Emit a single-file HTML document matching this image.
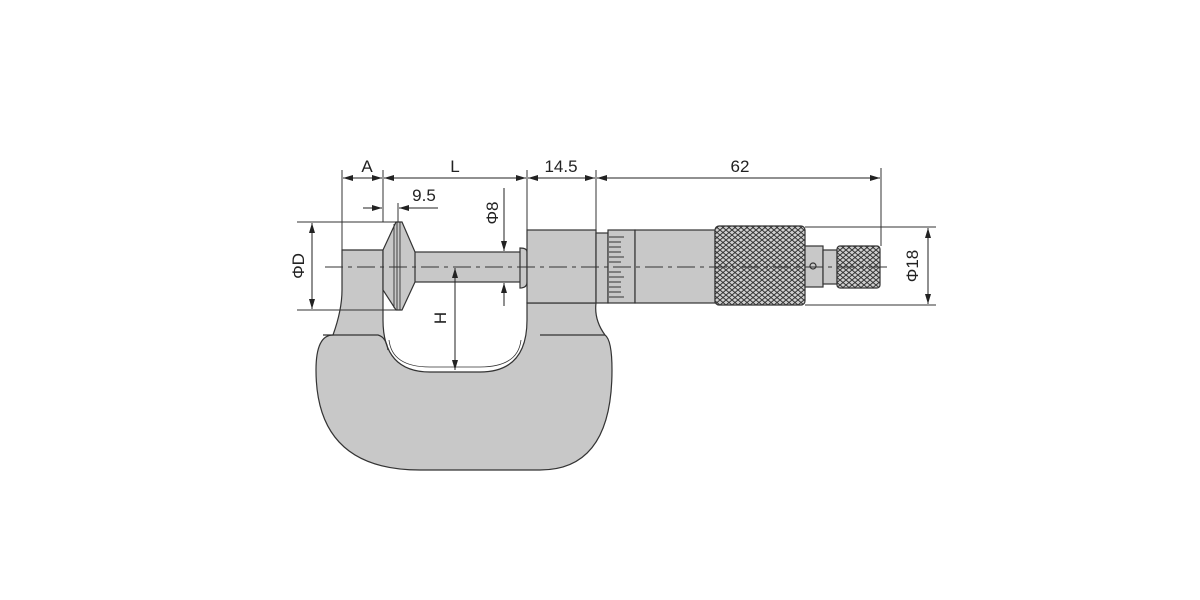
<!DOCTYPE html>
<html><head><style>
html,body{margin:0;padding:0;background:#fff;width:1200px;height:600px;overflow:hidden}
text{font-family:"Liberation Sans",sans-serif;font-size:17px;fill:#222}
</style></head><body>
<svg width="1200" height="600" viewBox="0 0 1200 600" xmlns="http://www.w3.org/2000/svg">
<defs>
<pattern id="kn" width="6" height="5" patternUnits="userSpaceOnUse">
<rect width="6" height="5" fill="#cfcfcf"/>
<path d="M0,0 L6,5 M6,0 L0,5 M-3,2.5 L0,5 M6,0 L9,2.5" stroke="#333" stroke-width="1" fill="none"/>
</pattern>
<marker id="ar" markerWidth="10" markerHeight="8" refX="10" refY="4" orient="auto" markerUnits="userSpaceOnUse">
<path d="M0,1 L10,4 L0,7 Z" fill="#222"/>
</marker>
</defs>
<g stroke="#333" stroke-width="1.2" fill="#c8c8c8">
<!-- frame -->
<path d="M342,250 L383,250 L383,320 Q383,372 430,372 L480,372 Q527,372 527,320 L527,303 L596,303 Q594,320 605,335 Q612,340 612,370 Q612,470 540,470 L420,470 Q316,470 316,370 Q316,335 333,335 Q342,310 342,290 Z"/>
<path d="M323,335 L378,335 Q386,337 388,350" fill="none"/>
<path d="M540,335 L605,335" fill="none"/>
<path d="M389,340 Q392,367 430,367 L480,367 Q518,367 521,340" fill="none" stroke-width="0.8"/>
<!-- spindle -->
<rect x="413" y="252" width="108" height="30"/>
<path d="M520,248 Q527,248 527,252 L527,282 Q527,288 520,288 Z"/>
<!-- disc anvil -->
<path d="M383,250 L396,222 L402,222 L415,252 L415,282 L402,310 L396,310 L383,290 Z"/>
<path d="M394,224 L394,308 M397,222 L397,310 M400,222 L400,310" fill="none" stroke-width="0.9"/>
<!-- sleeve block -->
<rect x="527" y="230" width="69" height="73"/>
<rect x="596" y="233" width="12" height="70"/>
<rect x="608" y="230" width="27" height="73"/>
<rect x="635" y="230" width="80" height="73"/>
<rect x="715" y="226" width="90" height="79" rx="4" fill="url(#kn)"/>
<rect x="805" y="246" width="18" height="41"/>
<rect x="823" y="250" width="14" height="34"/>
<rect x="837" y="246" width="43" height="42" rx="3" fill="url(#kn)"/>
<circle cx="813" cy="266" r="3" fill="none"/>
</g>
<!-- graduations -->
<g stroke="#333" stroke-width="1">
<path d="M609,237h15M609,242h12M609,247h12M609,252h12M609,257h15M609,262h12M609,272h12M609,277h15M609,282h12M609,287h12M609,292h12M609,297h15"/>
</g>
<!-- centerline -->
<line x1="325" y1="267" x2="892" y2="267" stroke="#333" stroke-width="1" stroke-dasharray="18,5,4,5"/>
<!-- extension lines -->
<g stroke="#333" stroke-width="1" fill="none">
<path d="M342,170V250M383,170V222M527,170V230M596,170V230M881,168V246"/>
<path d="M398,203V222"/>
<path d="M297,222H398M297,310H400"/>
<path d="M805,227H936M805,305H936"/>
</g>
<!-- dimension lines -->
<g stroke="#222" stroke-width="1" fill="none">
<line x1="355" y1="178" x2="343" y2="178" marker-end="url(#ar)"/>
<line x1="355" y1="178" x2="382" y2="178" marker-end="url(#ar)"/>
<line x1="455" y1="178" x2="384" y2="178" marker-end="url(#ar)"/>
<line x1="455" y1="178" x2="526" y2="178" marker-end="url(#ar)"/>
<line x1="560" y1="178" x2="528" y2="178" marker-end="url(#ar)"/>
<line x1="560" y1="178" x2="595" y2="178" marker-end="url(#ar)"/>
<line x1="740" y1="178" x2="597" y2="178" marker-end="url(#ar)"/>
<line x1="740" y1="178" x2="880" y2="178" marker-end="url(#ar)"/>
<line x1="363" y1="208" x2="382" y2="208" marker-end="url(#ar)"/>
<line x1="438" y1="208" x2="399" y2="208" marker-end="url(#ar)"/>
<line x1="312" y1="266" x2="312" y2="223" marker-end="url(#ar)"/>
<line x1="312" y1="266" x2="312" y2="309" marker-end="url(#ar)"/>
<line x1="504" y1="188" x2="504" y2="251" marker-end="url(#ar)"/>
<line x1="504" y1="306" x2="504" y2="283" marker-end="url(#ar)"/>
<line x1="455" y1="320" x2="455" y2="268" marker-end="url(#ar)"/>
<line x1="455" y1="320" x2="455" y2="370" marker-end="url(#ar)"/>
<line x1="928" y1="266" x2="928" y2="228" marker-end="url(#ar)"/>
<line x1="928" y1="266" x2="928" y2="304" marker-end="url(#ar)"/>
</g>
<!-- labels -->
<text x="367" y="172" text-anchor="middle">A</text>
<text x="455" y="172" text-anchor="middle">L</text>
<text x="561" y="172" text-anchor="middle">14.5</text>
<text x="740" y="172" text-anchor="middle">62</text>
<text x="424" y="201" text-anchor="middle">9.5</text>
<text transform="translate(304,266) rotate(-90)" text-anchor="middle">ΦD</text>
<text transform="translate(498,213) rotate(-90)" text-anchor="middle">Φ8</text>
<text transform="translate(446,318) rotate(-90)" text-anchor="middle">H</text>
<text transform="translate(918,266) rotate(-90)" text-anchor="middle">Φ18</text>
</svg>
</body></html>
